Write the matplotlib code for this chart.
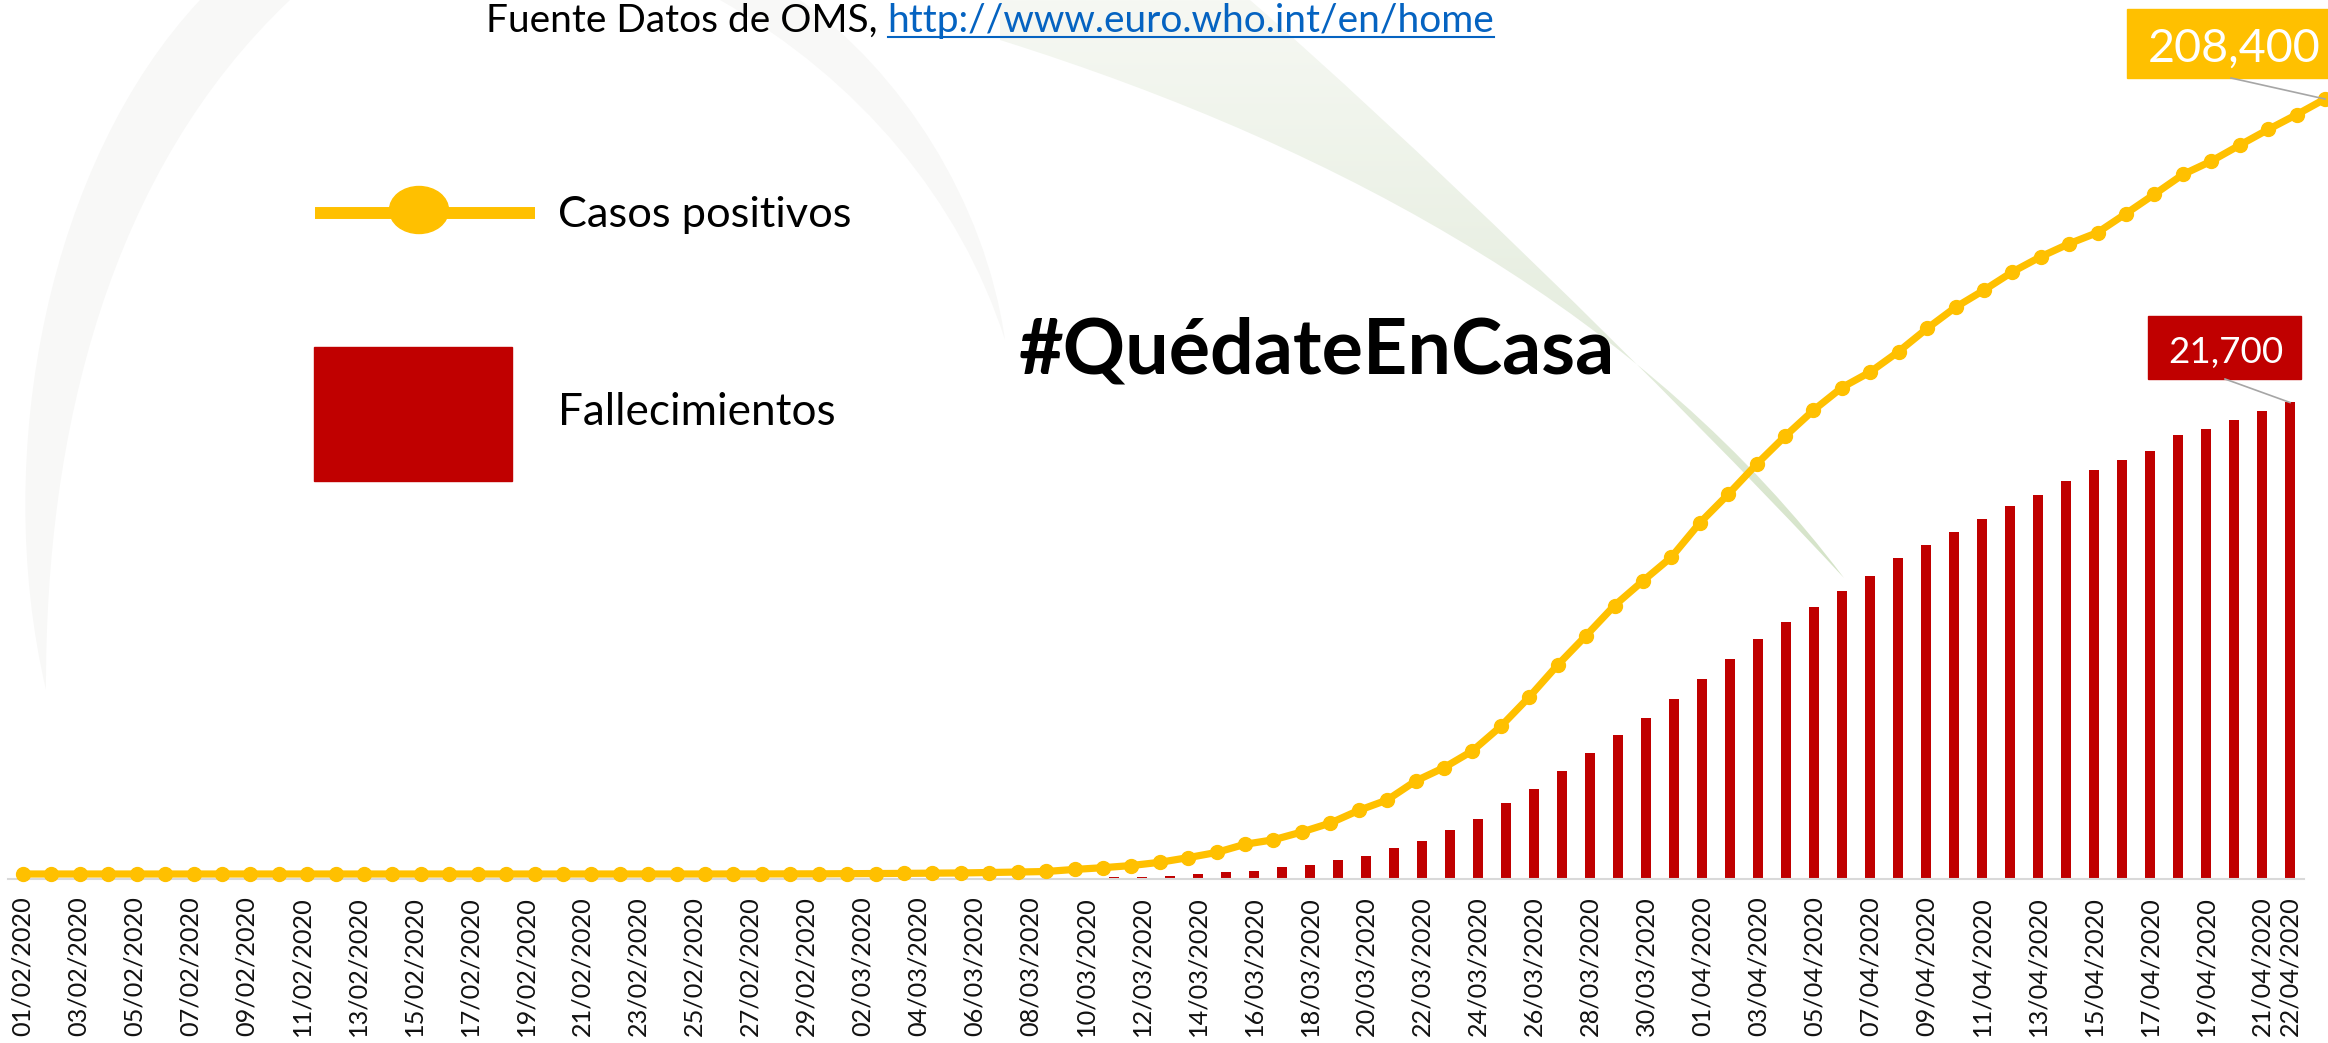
import matplotlib
matplotlib.use("Agg")
import matplotlib.pyplot as plt
from matplotlib.path import Path
from matplotlib.patches import PathPatch, Rectangle, Ellipse
from matplotlib.colors import LinearSegmentedColormap
import numpy as np
import pandas as pd

W, H = 2328, 1043
plt.rcParams['font.family'] = ['Lato', 'DejaVu Sans']

# daily data, 01/02/2020 .. 22/04/2020
dates = pd.date_range('2020-02-01', '2020-04-22', freq='D')
date_labels = [d.strftime('%d/%m/%Y') for d in dates]

cases = [1, 1, 1, 1, 1, 1, 1, 1, 2, 2,
         2, 2, 2, 2, 2, 2, 2, 2, 2, 2,
         2, 2, 2, 2, 6, 13, 15, 32, 45, 84,
         120, 165, 228, 282, 401, 525, 674, 1231, 1695, 2277,
         3146, 4400, 5800, 8000, 9200, 11300, 13700, 17100, 19900, 25000,
         28600, 33100, 39700, 47600, 56200, 64100, 72200, 78800, 85200, 94400,
         102100, 110200, 117700, 124700, 130800, 135000, 140500, 146700, 152400, 157000,
         161900, 166000, 169500, 172500, 177600, 182800, 188100, 191700, 196000, 200200,
         204200, 208400]

deaths = [0, 0, 0, 0, 0, 0, 0, 0, 0, 0,
          0, 0, 0, 0, 0, 0, 0, 0, 0, 0,
          0, 0, 0, 0, 0, 0, 0, 0, 0, 0,
          0, 1, 2, 3, 5, 10, 17, 28, 36, 55,
          86, 133, 195, 289, 342, 533, 623, 830, 1043, 1375,
          1720, 2200, 2700, 3430, 4100, 4900, 5700, 6520, 7300, 8200,
          9100, 10000, 10900, 11700, 12400, 13100, 13800, 14600, 15200, 15800,
          16400, 17000, 17500, 18100, 18600, 19100, 19500, 20200, 20500, 20900,
          21300, 21700]

YELLOW = '#FFC000'
RED = '#C00000'


def px_box(left, top, right, bottom):
    return [left / W, 1 - bottom / H, (right - left) / W, (bottom - top) / H]


fig = plt.figure(figsize=(W / 100, H / 100), dpi=100)
renderer = fig.canvas.get_renderer()

# faint background swooshes (watermark)
bg = fig.add_axes([0, 0, 1, 1])
C4 = Path.CURVE4
codes = [Path.MOVETO, C4, C4, C4, C4, C4, C4, Path.CLOSEPOLY]
grey_swooshes = [
    [(200, 0), (50, 160), (-10, 450), (46, 690), (45, 430), (110, 170), (290, 0), (200, 0)],
    [(720, 0), (860, 80), (960, 200), (1005, 340), (985, 200), (900, 70), (800, 0), (720, 0)],
]
for verts in grey_swooshes:
    bg.add_patch(PathPatch(Path(verts, codes), facecolor='#F8F8F7', edgecolor='none'))

leaf_verts = [(1000, 0), (1000, 40), (1350, 150), (1650, 320), (1844, 578),
              (1660, 380), (1400, 130), (1250, 0), (1000, 0)]
leaf_codes = [Path.MOVETO, Path.LINETO, C4, C4, C4, C4, C4, C4, Path.CLOSEPOLY]
leaf = PathPatch(Path(leaf_verts, leaf_codes), facecolor='none', edgecolor='none')
bg.add_patch(leaf)
green = LinearSegmentedColormap.from_list('leaf', ['#F6F8F3', '#E8EFE2', '#D4E3C7'])
im = bg.imshow(np.linspace(0, 1, 256).reshape(-1, 1), extent=(1000, 1850, 580, 0),
               aspect='auto', cmap=green)
im.set_clip_path(leaf)
bg.set_xlim(0, W)
bg.set_ylim(H, 0)
bg.axis('off')

# bars: deaths
ax = fig.add_axes(px_box(8, 402.5, 2304, 878.5))
x = list(range(len(dates)))
ax.bar(x, deaths, width=0.36, color=RED, zorder=2)
ax.set_xlim(-0.5, len(dates) - 0.5)
ax.set_ylim(0, 21700)
ax.patch.set_visible(False)
for s in ['left', 'right', 'top']:
    ax.spines[s].set_visible(False)
ax.spines['bottom'].set_color('#D9D9D9')
ax.spines['bottom'].set_linewidth(1.5)
ax.set_yticks([])

# tick label size so that one label is ~140 px long
tmp = fig.text(0, 0, date_labels[0], fontsize=20)
tick_size = 20 * 140 / tmp.get_window_extent(renderer).width
tmp.remove()
ticks = list(range(0, len(dates), 2)) + [len(dates) - 1]
ax.set_xticks(ticks)
ax.set_xticklabels([date_labels[i] for i in ticks], rotation=90, fontsize=tick_size,
                   color='#111111')
ax.tick_params(axis='x', length=0, pad=13)

# line: positive cases
ax2 = fig.add_axes(px_box(23, 99, 2325, 874))
ax2.plot(x, cases, color=YELLOW, lw=5.2, marker='o', ms=10, clip_on=False, zorder=3)
ax2.set_xlim(0, len(dates) - 1)
ax2.set_ylim(0, 208400)
ax2.axis('off')

# overlay for legend, titles and value labels (pixel coordinates)
ov = fig.add_axes([0, 0, 1, 1])
ov.set_xlim(0, W)
ov.set_ylim(H, 0)
ov.axis('off')


def fitted(xp, yp, s, width, **kw):
    t = ov.text(xp, yp, s, fontsize=20, **kw)
    w = t.get_window_extent(renderer).width
    t.set_fontsize(20 * width / w)
    return t


# source line
part1 = 'Fuente Datos de OMS, '
link = 'http://www.euro.who.int/en/home'
t_all = fitted(486, 32, part1 + link, 1010, va='baseline')
src_size = t_all.get_fontsize()
t_all.remove()
t1 = ov.text(486, 32, part1, fontsize=src_size, va='baseline', color='black')
w1 = t1.get_window_extent(renderer).width
t2 = ov.text(486 + w1, 32, link, fontsize=src_size, va='baseline', color='#0563C1')
w2 = t2.get_window_extent(renderer).width
ov.plot([486 + w1, 486 + w1 + w2], [37, 37], color='#0563C1', lw=1.5)

# legend
ov.plot([315, 535], [213, 213], color=YELLOW, lw=8.6, solid_capstyle='butt')
ov.add_patch(Ellipse((419, 210), 59, 47, color=YELLOW))
fitted(558, 227, 'Casos positivos', 293, va='baseline', color='black')
ov.add_patch(Rectangle((314, 347), 198, 134, color=RED))
fitted(558, 425, 'Fallecimientos', 278, va='baseline', color='black')

fitted(1019, 373, '#QuédateEnCasa', 597, va='baseline', color='black', fontweight='bold')

# value labels with leader lines
px, py = ax2.transData.transform((x[-1], cases[-1]))
ov.plot([2231, px], [78, H - py], color='#A6A6A6', lw=1.2)
ov.add_patch(Rectangle((2127, 9), 220, 69, color=YELLOW))
fitted(2234.5, 62, f'{cases[-1]:,}', 173, va='baseline', ha='center', color='white')

bx, by = ax.transData.transform((x[-1], deaths[-1]))
ov.plot([2225, bx], [379, H - by], color='#A6A6A6', lw=1.2)
ov.add_patch(Rectangle((2148, 316), 153, 63, color=RED))
fitted(2225.5, 363, f'{deaths[-1]:,}', 115, va='baseline', ha='center', color='white')

fig.savefig('out.png', dpi=100)
